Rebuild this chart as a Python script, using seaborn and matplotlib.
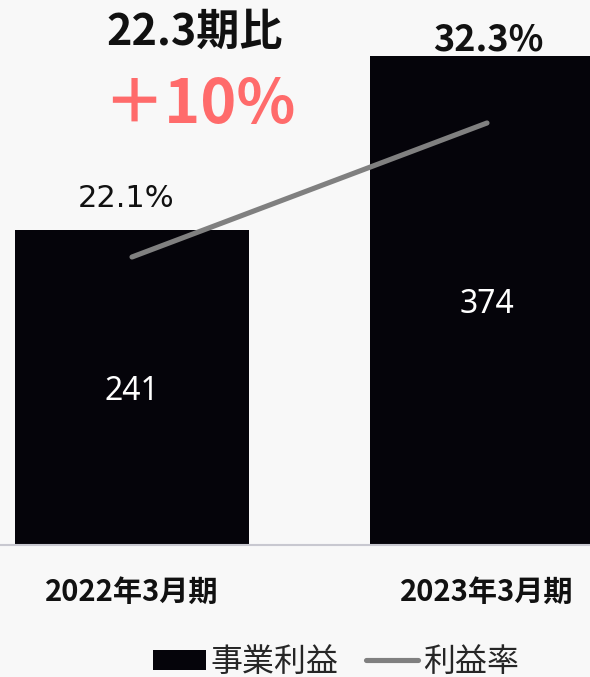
import matplotlib
matplotlib.use("Agg")
import matplotlib.pyplot as plt
import seaborn as sns
import pandas as pd
from matplotlib.patches import Patch
from matplotlib.lines import Line2D

# Figures
periods = ["2022年3月期", "2023年3月期"]
profit = [241, 374]          # 事業利益
margin = [22.1, 32.3]        # 利益率 (%)
yoy_title = "22.3期比"
yoy_change = "＋10%"

BG = "#f8f8f8"
BAR = "#05040a"
LINE = "#808080"
ACCENT = "#ff6b6b"

sns.set_theme(style="white")
plt.rcParams["font.family"] = ["Noto Sans CJK JP", "DejaVu Sans"]

W, H = 590, 677
fig = plt.figure(figsize=(W / 100, H / 100), dpi=100, facecolor=BG)
base_y = 545  # baseline, pixels from top
ax = fig.add_axes([0, 1 - base_y / H, 1, base_y / H])
ax.set_facecolor(BG)

df = pd.DataFrame({"period": periods, "profit": profit, "margin": margin})

sns.barplot(data=df, x="period", y="profit", color=BAR, saturation=1,
            width=0.66, ax=ax, zorder=2)
for p in ax.patches:
    p.set_edgecolor("none")

ax.set_xlim(-132 / 355, (W - 132) / 355)
ax.set_ylim(0, base_y / 1.307)

# values in the middle of each bar
for i, v in enumerate(profit):
    ax.annotate(str(v), xy=(i, v / 2), xytext=(0, -4),
                textcoords="offset pixels", ha="center", va="center",
                color="white", fontsize=23, fontweight="medium",
                family=["Noto Sans", "DejaVu Sans"], zorder=3)

# profit-margin line on a secondary axis
ax2 = ax.twinx()
sns.lineplot(x=list(range(len(margin))), y=margin, ax=ax2, color=LINE,
             linewidth=3.7, solid_capstyle="round")
ax2.set_ylim(0.18, 41.66)
ax2.set_yticks([])
ax2.set_ylabel("")
for s in ax2.spines.values():
    s.set_visible(False)

# margin labels above the bars
ax.annotate(f"{margin[0]}%", xy=(0, profit[0]), xytext=(-6, 32),
            textcoords="offset pixels", ha="center", va="center",
            fontsize=22, color="#111111", family=["DejaVu Sans"])
ax.annotate(f"{margin[1]}%", xy=(1, profit[1]), xytext=(1, 16),
            textcoords="offset pixels", ha="center", va="center",
            fontsize=26, fontweight="bold", color="#111111",
            annotation_clip=False)

# axes styling
for side in ["left", "right", "top"]:
    ax.spines[side].set_visible(False)
ax.spines["bottom"].set_color("#c8c8d0")
ax.spines["bottom"].set_linewidth(1.5)
ax.set_yticks([])
ax.set_ylabel("")
ax.set_xlabel("")
ax.tick_params(axis="x", length=0, pad=23)
for lbl in ax.get_xticklabels():
    lbl.set_fontsize(21)
    lbl.set_fontweight("bold")
    lbl.set_color("#111111")

# headline
fig.text(195 / W, 1 - 32 / H, yoy_title, ha="center", va="center",
         fontsize=31, fontweight="bold", color="#111111")
fig.text(199 / W, 1 - 105 / H, yoy_change, ha="center", va="center",
         fontsize=44, fontweight="bold", color=ACCENT)

# legend
handles = [Patch(facecolor=BAR, edgecolor="none", label="事業利益"),
           Line2D([0], [0], color=LINE, lw=3.7, solid_capstyle="round",
                  label="利益率")]
fig.legend(handles=handles, loc="center left",
           bbox_to_anchor=(153 / W, 1 - 662 / H), ncol=2, frameon=False,
           fontsize=23, handlelength=1.65, handleheight=0.6,
           handletextpad=0.15, columnspacing=0.85, borderpad=0,
           borderaxespad=0)

fig.savefig("out.png", dpi=100, facecolor=BG)
